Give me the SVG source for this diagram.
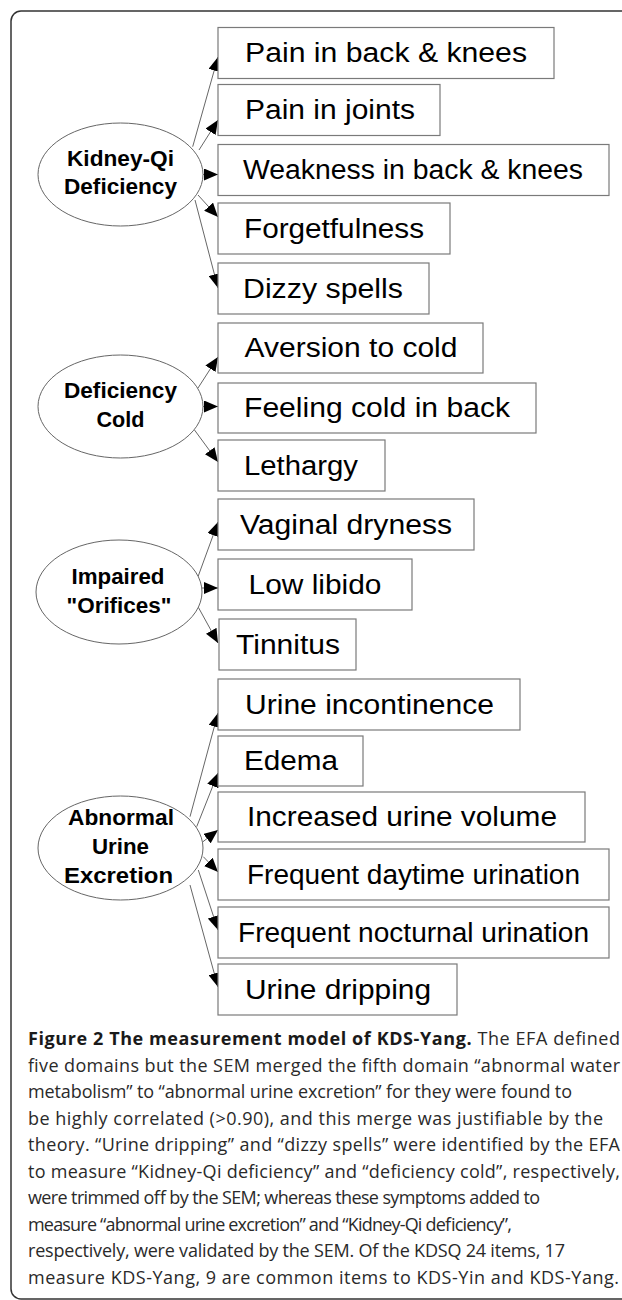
<svg xmlns="http://www.w3.org/2000/svg" width="622" height="1300" viewBox="0 0 622 1300">
<style>
.frame{fill:none;stroke:#333;stroke-width:1.5}
.box{fill:#fff;stroke:#7a7a7a;stroke-width:1.2}
.ell{fill:#fff;stroke:#666;stroke-width:1}
.bt{font-family:"Liberation Sans",Arial,sans-serif;font-size:27px;fill:#000;text-anchor:middle}
.et{font-family:"Liberation Sans",Arial,sans-serif;font-size:22px;font-weight:bold;fill:#000;text-anchor:middle}
.edge{stroke:#555;stroke-width:0.9;fill:none;marker-end:url(#ah)}
.cap{font-family:"Open Sans","Noto Sans",sans-serif;font-size:18px;fill:#2a2a2a}
.capb{font-weight:bold;fill:#1a1a1a}
</style>
<defs>
<marker id="ah" markerUnits="userSpaceOnUse" markerWidth="15" markerHeight="12" refX="14" refY="6" orient="auto">
<path d="M0,0 L14,6 L0,12 z" fill="#000"/>
</marker>
</defs>
<rect class="frame" x="11" y="11" width="640" height="1288" rx="10"/>
<g id="connectors">
<line class="edge" x1="192.7" y1="146.7" x2="218" y2="57"/>
<line class="edge" x1="199" y1="150" x2="218" y2="120"/>
<line class="edge" x1="203" y1="174.5" x2="218" y2="174.5"/>
<line class="edge" x1="198" y1="195" x2="218" y2="217"/>
<line class="edge" x1="195" y1="200" x2="218" y2="288"/>
<line class="edge" x1="198" y1="388" x2="218" y2="357"/>
<line class="edge" x1="203" y1="406.5" x2="218" y2="406.5"/>
<line class="edge" x1="194.5" y1="430" x2="218" y2="462"/>
<line class="edge" x1="198" y1="576.7" x2="218" y2="522"/>
<line class="edge" x1="201.7" y1="588" x2="218" y2="588"/>
<line class="edge" x1="198" y1="606.7" x2="218" y2="643"/>
<line class="edge" x1="190" y1="816.7" x2="218" y2="713"/>
<line class="edge" x1="196.7" y1="826.7" x2="218" y2="773"/>
<line class="edge" x1="203" y1="841.7" x2="218" y2="830"/>
<line class="edge" x1="203.3" y1="856.7" x2="218" y2="872"/>
<line class="edge" x1="198.3" y1="870" x2="218" y2="930"/>
<line class="edge" x1="190" y1="885" x2="218" y2="987"/>
</g>
<g id="kidney-qi-deficiency">
<ellipse class="ell" cx="120.5" cy="174.5" rx="82.5" ry="51.5"/>
<text class="et" x="120.5" y="166" textLength="107" lengthAdjust="spacingAndGlyphs">Kidney-Qi</text>
<text class="et" x="120.5" y="194" textLength="113" lengthAdjust="spacingAndGlyphs">Deficiency</text>
</g>
<g id="deficiency-cold">
<ellipse class="ell" cx="120.5" cy="406.5" rx="82.5" ry="51.5"/>
<text class="et" x="120.5" y="398" textLength="113" lengthAdjust="spacingAndGlyphs">Deficiency</text>
<text class="et" x="120.5" y="427" textLength="48" lengthAdjust="spacingAndGlyphs">Cold</text>
</g>
<g id="impaired-orifices">
<ellipse class="ell" cx="119" cy="592" rx="83" ry="52"/>
<text class="et" x="118" y="584" textLength="93" lengthAdjust="spacingAndGlyphs">Impaired</text>
<text class="et" x="119" y="613" textLength="105" lengthAdjust="spacingAndGlyphs">"Orifices"</text>
</g>
<g id="abnormal-urine-excretion">
<ellipse class="ell" cx="120.5" cy="848" rx="82.5" ry="52"/>
<text class="et" x="121" y="824.5" textLength="106" lengthAdjust="spacingAndGlyphs">Abnormal</text>
<text class="et" x="120.5" y="853.5" textLength="57" lengthAdjust="spacingAndGlyphs">Urine</text>
<text class="et" x="118.5" y="883" textLength="109" lengthAdjust="spacingAndGlyphs">Excretion</text>
</g>
<g id="pain-back-knees"><rect class="box" x="218" y="27.5" width="336" height="51"/><text class="bt" x="386" y="62" textLength="282" lengthAdjust="spacingAndGlyphs">Pain in back &amp; knees</text></g>
<g id="pain-joints"><rect class="box" x="218" y="84.5" width="222" height="51"/><text class="bt" x="330" y="119" textLength="170" lengthAdjust="spacingAndGlyphs">Pain in joints</text></g>
<g id="weakness"><rect class="box" x="218" y="144.5" width="391" height="51"/><text class="bt" x="413" y="179" textLength="340" lengthAdjust="spacingAndGlyphs">Weakness in back &amp; knees</text></g>
<g id="forgetfulness"><rect class="box" x="218" y="203" width="232" height="51"/><text class="bt" x="334" y="237.5" textLength="180" lengthAdjust="spacingAndGlyphs">Forgetfulness</text></g>
<g id="dizzy"><rect class="box" x="218" y="263" width="211" height="51"/><text class="bt" x="323" y="297.5" textLength="160" lengthAdjust="spacingAndGlyphs">Dizzy spells</text></g>
<g id="aversion"><rect class="box" x="218" y="323" width="265" height="50"/><text class="bt" x="351" y="357" textLength="213" lengthAdjust="spacingAndGlyphs">Aversion to cold</text></g>
<g id="feeling-cold"><rect class="box" x="218" y="383" width="318" height="50"/><text class="bt" x="377" y="417" textLength="266" lengthAdjust="spacingAndGlyphs">Feeling cold in back</text></g>
<g id="lethargy"><rect class="box" x="218" y="440" width="167" height="51"/><text class="bt" x="301" y="474.5" textLength="114" lengthAdjust="spacingAndGlyphs">Lethargy</text></g>
<g id="vaginal"><rect class="box" x="218" y="499" width="256" height="51"/><text class="bt" x="346" y="533.5" textLength="212" lengthAdjust="spacingAndGlyphs">Vaginal dryness</text></g>
<g id="low-libido"><rect class="box" x="218" y="559" width="194" height="51"/><text class="bt" x="315" y="593.5" textLength="133" lengthAdjust="spacingAndGlyphs">Low libido</text></g>
<g id="tinnitus"><rect class="box" x="219" y="619" width="137" height="51"/><text class="bt" x="288" y="653.5" textLength="104" lengthAdjust="spacingAndGlyphs">Tinnitus</text></g>
<g id="urine-incontinence"><rect class="box" x="218" y="679" width="302" height="51"/><text class="bt" x="369.5" y="713.5" textLength="249" lengthAdjust="spacingAndGlyphs">Urine incontinence</text></g>
<g id="edema"><rect class="box" x="218" y="736" width="145" height="50"/><text class="bt" x="291" y="770" textLength="94" lengthAdjust="spacingAndGlyphs">Edema</text></g>
<g id="increased-volume"><rect class="box" x="218" y="792" width="367" height="50"/><text class="bt" x="402" y="826" textLength="310" lengthAdjust="spacingAndGlyphs">Increased urine volume</text></g>
<g id="frequent-daytime"><rect class="box" x="218" y="849" width="391" height="51"/><text class="bt" x="413.5" y="883.5" textLength="333" lengthAdjust="spacingAndGlyphs">Frequent daytime urination</text></g>
<g id="frequent-nocturnal"><rect class="box" x="218" y="907" width="391" height="51"/><text class="bt" x="413.5" y="941.5" textLength="351" lengthAdjust="spacingAndGlyphs">Frequent nocturnal urination</text></g>
<g id="urine-dripping"><rect class="box" x="218" y="964" width="239" height="51"/><text class="bt" x="338" y="998.5" textLength="186" lengthAdjust="spacingAndGlyphs">Urine dripping</text></g>
<g id="caption" class="cap">
<text x="28" y="1045" textLength="592" lengthAdjust="spacing"><tspan class="capb">Figure 2 The measurement model of KDS-Yang.</tspan> The EFA defined</text>
<text x="28" y="1071.5" textLength="592" lengthAdjust="spacing">five domains but the SEM merged the fifth domain “abnormal water</text>
<text x="28" y="1098" textLength="544" lengthAdjust="spacing">metabolism” to “abnormal urine excretion” for they were found to</text>
<text x="28" y="1124.5" textLength="575" lengthAdjust="spacing">be highly correlated (&gt;0.90), and this merge was justifiable by the</text>
<text x="28" y="1151" textLength="592" lengthAdjust="spacing">theory. “Urine dripping” and “dizzy spells” were identified by the EFA</text>
<text x="28" y="1177.5" textLength="592" lengthAdjust="spacing">to measure “Kidney-Qi deficiency” and “deficiency cold”, respectively,</text>
<text x="28" y="1204" textLength="512" lengthAdjust="spacing">were trimmed off by the SEM; whereas these symptoms added to</text>
<text x="28" y="1230.5" textLength="484" lengthAdjust="spacing">measure “abnormal urine excretion” and “Kidney-Qi deficiency”,</text>
<text x="28" y="1257" textLength="537" lengthAdjust="spacing">respectively, were validated by the SEM. Of the KDSQ 24 items, 17</text>
<text x="28" y="1283.5" textLength="591" lengthAdjust="spacing">measure KDS-Yang, 9 are common items to KDS-Yin and KDS-Yang.</text>
</g>
</svg>
